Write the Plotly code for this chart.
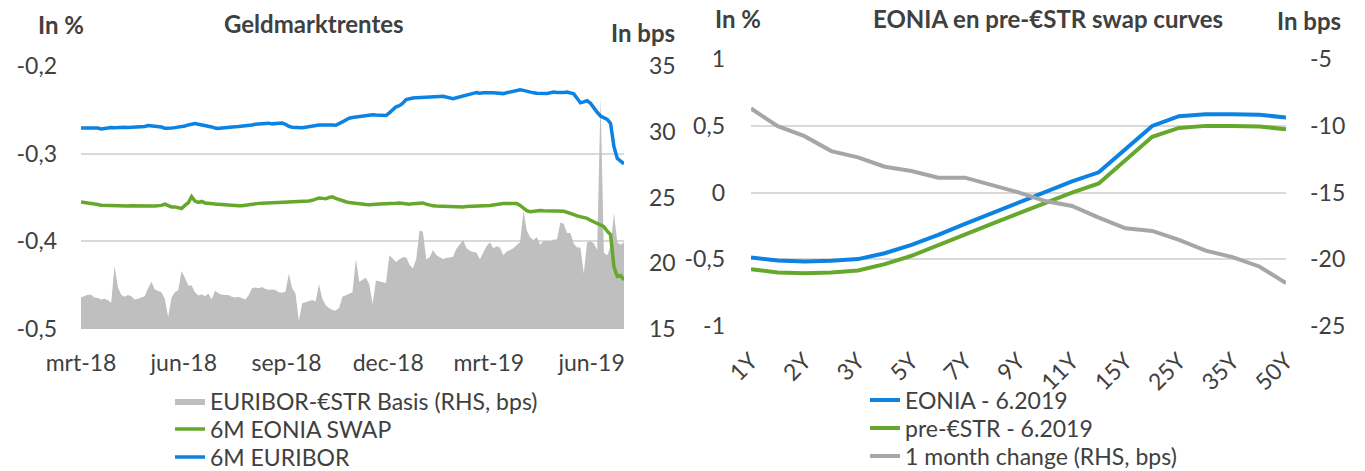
import plotly.graph_objects as go
import pandas as pd

# ---------------- Left chart data (3-day grid, Mar 2018 - Jun 2019) ----------------
dates = pd.date_range("2018-03-01", periods=163, freq="3D")

basis_bps = [
    17.4, 17.5, 17.6, 17.6, 17.4, 17.35, 17.25, 17.3, 17.2, 17.0,
    19.8, 18.2, 17.6, 17.45, 17.58, 17.5, 17.25, 17.3, 17.4, 17.5,
    18.1, 18.6, 18.0, 17.9, 17.8, 17.3, 15.9, 17.4, 17.8, 17.95,
    19.4, 18.9, 18.3, 18.3, 17.8, 17.55, 17.65, 17.5, 17.7, 17.25,
    17.9, 17.72, 17.6, 17.58, 17.58, 17.45, 17.4, 17.45, 17.35, 17.25,
    17.55, 18.1, 18.15, 18.1, 18.2, 18.05, 17.98, 18.0, 17.96, 17.8,
    17.75, 17.83, 19.2, 18.1, 17.7, 15.6, 16.95, 17.05, 17.1, 17.2,
    17.1, 18.4, 17.3, 16.8, 16.6, 16.45, 16.4, 16.6, 17.45, 17.55,
    17.65, 17.8, 20.3, 18.6, 18.75, 18.9, 18.4, 16.9, 18.68, 18.6,
    18.55, 18.5, 20.6, 20.35, 20.1, 20.3, 20.45, 20.45, 19.9, 19.6,
    20.3, 22.5, 22.4, 20.3, 20.45, 21.0, 20.62, 20.45, 20.32, 20.4,
    20.45, 20.5, 21.1, 21.45, 21.76, 21.15, 20.95, 20.85, 20.8, 20.3,
    20.8, 21.3, 21.6, 21.15, 21.3, 21.2, 20.6, 20.9, 21.0, 21.15,
    21.38, 21.6, 24.0, 22.5, 21.95, 21.76, 22.0, 21.4, 21.7, 21.7,
    21.7, 21.8, 21.8, 23.1, 23.0, 22.3, 22.3, 21.5, 21.2, 21.2,
    19.2, 21.6, 21.7, 21.5, 21.0, 32.6, 20.8, 20.6, 21.3, 23.8,
    21.6, 21.4, 21.6,
]

eonia_swap_6m = [
    -0.3550, -0.3555, -0.3560, -0.3562, -0.3570, -0.3580, -0.3588, -0.3590, -0.3592, -0.3590,
    -0.3593, -0.3595, -0.3592, -0.3595, -0.3597, -0.3595, -0.3597, -0.3598, -0.3597, -0.3596,
    -0.3597, -0.3598, -0.3597, -0.3597, -0.3590, -0.3575, -0.3595, -0.3607, -0.3607, -0.3615,
    -0.3626, -0.3590, -0.3560, -0.3490, -0.3540, -0.3555, -0.3545, -0.3562, -0.3569, -0.3570,
    -0.3575, -0.3577, -0.3578, -0.3580, -0.3583, -0.3587, -0.3590, -0.3593, -0.3595, -0.3588,
    -0.3580, -0.3575, -0.3569, -0.3567, -0.3565, -0.3563, -0.3561, -0.3562, -0.3560, -0.3559,
    -0.3557, -0.3557, -0.3555, -0.3555, -0.3553, -0.3552, -0.3550, -0.3548, -0.3540, -0.3532,
    -0.3518, -0.3505, -0.3510, -0.3515, -0.3500, -0.3493, -0.3510, -0.3525, -0.3538, -0.3548,
    -0.3558, -0.3564, -0.3568, -0.3574, -0.3577, -0.3580, -0.3583, -0.3584, -0.3578, -0.3575,
    -0.3575, -0.3576, -0.3576, -0.3572, -0.3566, -0.3562, -0.3568, -0.3573, -0.3576, -0.3570,
    -0.3565, -0.3562, -0.3562, -0.3575, -0.3588, -0.3595, -0.3598, -0.3600, -0.3603, -0.3605,
    -0.3607, -0.3607, -0.3607, -0.3607, -0.3607, -0.3604, -0.3602, -0.3600, -0.3599, -0.3596,
    -0.3597, -0.3600, -0.3590, -0.3585, -0.3578, -0.3570, -0.3569, -0.3569, -0.3569, -0.3569,
    -0.3569, -0.3590, -0.3625, -0.3650, -0.3662, -0.3655, -0.3645, -0.3648, -0.3652, -0.3655,
    -0.3655, -0.3654, -0.3653, -0.3652, -0.3658, -0.3668, -0.3678, -0.3695, -0.3710, -0.3720,
    -0.3728, -0.3738, -0.3760, -0.3780, -0.3800, -0.3815, -0.3832, -0.3885, -0.3925, -0.4290,
    -0.4400, -0.4390, -0.4440,
]

euribor_6m = [
    -0.2707, -0.2705, -0.2708, -0.2706, -0.2708, -0.2707, -0.2718, -0.2710, -0.2703, -0.2702,
    -0.2703, -0.2700, -0.2702, -0.2700, -0.2702, -0.2700, -0.2701, -0.2702, -0.2700, -0.2690,
    -0.2680, -0.2682, -0.2688, -0.2693, -0.2696, -0.2710, -0.2714, -0.2708, -0.2703, -0.2698,
    -0.2695, -0.2685, -0.2672, -0.2660, -0.2657, -0.2665, -0.2672, -0.2680, -0.2684, -0.2695,
    -0.2708, -0.2714, -0.2708, -0.2702, -0.2698, -0.2695, -0.2692, -0.2690, -0.2687, -0.2684,
    -0.2678, -0.2672, -0.2665, -0.2660, -0.2657, -0.2655, -0.2652, -0.2660, -0.2655, -0.2652,
    -0.2650, -0.2665, -0.2688, -0.2698, -0.2703, -0.2707, -0.2705, -0.2698, -0.2690, -0.2680,
    -0.2676, -0.2674, -0.2672, -0.2670, -0.2669, -0.2673, -0.2676, -0.2660, -0.2638, -0.2615,
    -0.2595, -0.2588, -0.2582, -0.2576, -0.2570, -0.2565, -0.2558, -0.2557, -0.2560, -0.2562,
    -0.2565, -0.2565, -0.2535, -0.2500, -0.2465, -0.2452, -0.2425, -0.2384, -0.2372, -0.2365,
    -0.2363, -0.2362, -0.2361, -0.2361, -0.2358, -0.2355, -0.2352, -0.2348, -0.2346, -0.2355,
    -0.2366, -0.2372, -0.2362, -0.2350, -0.2340, -0.2334, -0.2322, -0.2312, -0.2304, -0.2310,
    -0.2305, -0.2300, -0.2304, -0.2306, -0.2310, -0.2312, -0.2315, -0.2305, -0.2295, -0.2287,
    -0.2280, -0.2272, -0.2278, -0.2290, -0.2302, -0.2306, -0.2310, -0.2313, -0.2314, -0.2315,
    -0.2305, -0.2297, -0.2302, -0.2307, -0.2302, -0.2296, -0.2305, -0.2318, -0.2368, -0.2420,
    -0.2410, -0.2395, -0.2425, -0.2480, -0.2528, -0.2570, -0.2586, -0.2610, -0.2655, -0.2920,
    -0.3055, -0.3085, -0.3115,
]

date_tick_vals = ["2018-03-01", "2018-06-01", "2018-09-01", "2018-12-01", "2019-03-01", "2019-06-01"]
date_tick_text = ["mrt-18", "jun-18", "sep-18", "dec-18", "mrt-19", "jun-19"]
pct_left_vals = [-0.5, -0.4, -0.3, -0.2]
pct_left_text = ["-0,5", "-0,4", "-0,3", "-0,2"]
bps_left_vals = [15, 20, 25, 30, 35]
bps_left_text = ["15", "20", "25", "30", "35"]

# ---------------- Right chart data ----------------
tenors = ["1Y", "18M", "2Y", "30M", "3Y", "4Y", "5Y", "6Y", "7Y", "8Y", "9Y", "10Y",
          "11Y", "12Y", "15Y", "20Y", "25Y", "30Y", "35Y", "40Y", "50Y"]
tenor_labels = ["1Y", "2Y", "3Y", "5Y", "7Y", "9Y", "11Y", "15Y", "25Y", "35Y", "50Y"]
eonia_curve = [-0.487, -0.509, -0.517, -0.512, -0.499, -0.455, -0.392, -0.318, -0.235, -0.156,
               -0.073, 0.006, 0.083, 0.151, 0.330, 0.499, 0.572, 0.587, 0.587, 0.582, 0.562]
pre_estr_curve = [-0.574, -0.599, -0.604, -0.599, -0.584, -0.537, -0.474, -0.397, -0.318, -0.235,
                  -0.156, -0.076, -0.001, 0.068, 0.243, 0.417, 0.484, 0.499, 0.499, 0.494, 0.474]
change_1m_bps = [-8.71, -10.03, -10.78, -11.90, -12.37, -13.07, -13.39, -13.89, -13.89, -14.44,
                 -14.99, -15.64, -16.01, -16.88, -17.68, -17.88, -18.55, -19.35, -19.84, -20.54, -21.79]
pct_right_vals = [-1, -0.5, 0, 0.5, 1]
pct_right_text = ["-1", "-0,5", "0", "0,5", "1"]
bps_right_vals = [-25, -20, -15, -10, -5]
bps_right_text = ["-25", "-20", "-15", "-10", "-5"]

# ---------------- Styling ----------------
W, H = 1365, 471
FONT = "Lato"
TXT = "#404040"
GRID = "#d9d9d9"
BLUE = "#0c83e2"
GREEN = "#65a82b"
GRAYA = "#bfbfbf"
GRAYL = "#a6a6a6"
FS = 23
LFS = 23


def px(x):
    return x / W


def py(y):
    return 1 - y / H


fig = go.Figure()

# Left chart
fig.add_trace(go.Scatter(x=dates, y=basis_bps, mode="lines", fill="tozeroy",
                         line=dict(width=0, color=GRAYA), fillcolor=GRAYA,
                         name="EURIBOR-€STR Basis (RHS, bps)", xaxis="x", yaxis="y",
                         legend="legend"))
fig.add_trace(go.Scatter(x=dates, y=eonia_swap_6m, mode="lines",
                         line=dict(width=3.5, color=GREEN),
                         name="6M EONIA SWAP", xaxis="x", yaxis="y2", legend="legend2"))
fig.add_trace(go.Scatter(x=dates, y=euribor_6m, mode="lines",
                         line=dict(width=3.5, color=BLUE),
                         name="6M EURIBOR", xaxis="x", yaxis="y2", legend="legend3"))

# Right chart
fig.add_trace(go.Scatter(x=tenors, y=eonia_curve, mode="lines",
                         line=dict(width=4, color=BLUE),
                         name="EONIA - 6.2019", xaxis="x2", yaxis="y3", legend="legend4"))
fig.add_trace(go.Scatter(x=tenors, y=pre_estr_curve, mode="lines",
                         line=dict(width=4, color=GREEN),
                         name="pre-€STR - 6.2019", xaxis="x2", yaxis="y3", legend="legend5"))
fig.add_trace(go.Scatter(x=tenors, y=change_1m_bps, mode="lines",
                         line=dict(width=4, color=GRAYL),
                         name="1 month change (RHS, bps)", xaxis="x2", yaxis="y4", legend="legend6"))

tickfont = dict(family=FONT, size=FS, color=TXT)


def legend_at(x_px, y_px):
    return dict(x=px(x_px), y=py(y_px), xanchor="left", yanchor="middle",
                orientation="v", bgcolor="rgba(0,0,0,0)", borderwidth=0,
                font=dict(family=FONT, size=LFS, color=TXT))


fig.update_layout(
    width=W, height=H, autosize=False,
    margin=dict(l=0, r=0, t=0, b=0, autoexpand=False),
    paper_bgcolor="white", plot_bgcolor="white",
    font=dict(family=FONT, size=FS, color=TXT),
    xaxis=dict(domain=[px(81), px(624)], anchor="y", type="date",
               range=["2018-03-01", "2019-06-30"],
               tickmode="array", tickvals=date_tick_vals, ticktext=date_tick_text,
               showgrid=False, zeroline=False, showline=False, ticks="",
               ticklabelstandoff=18, tickfont=tickfont, automargin=False),
    yaxis=dict(domain=[py(329), py(66)], anchor="x", side="right",
               range=[15, 35], tickmode="array", tickvals=bps_left_vals, ticktext=bps_left_text,
               showgrid=False, zeroline=False, showline=False, ticks="",
               ticklabelstandoff=24, tickfont=tickfont, automargin=False),
    yaxis2=dict(overlaying="y", anchor="x", side="left",
                range=[-0.5, -0.2], tickmode="array", tickvals=pct_left_vals, ticktext=pct_left_text,
                showgrid=True, gridcolor=GRID, gridwidth=1.5, zeroline=False, showline=False,
                ticks="", ticklabelstandoff=23, tickfont=tickfont, automargin=False),
    xaxis2=dict(domain=[px(751), px(1286)], anchor="y3", type="category",
                categoryorder="array", categoryarray=tenors,
                tickmode="array", tickvals=tenor_labels, ticktext=tenor_labels,
                tickangle=-45, showgrid=False, zeroline=False, showline=False, ticks="",
                ticklabelstandoff=16, tickfont=tickfont, automargin=False),
    yaxis3=dict(domain=[py(326), py(59)], anchor="x2", side="left",
                range=[-1, 1], tickmode="array", tickvals=pct_right_vals, ticktext=pct_right_text,
                showgrid=True, gridcolor=GRID, gridwidth=1.5, zeroline=False, showline=False,
                ticks="", ticklabelstandoff=25, tickfont=tickfont, automargin=False),
    yaxis4=dict(overlaying="y3", anchor="x2", side="right",
                range=[-25, -5], tickmode="array", tickvals=bps_right_vals, ticktext=bps_right_text,
                showgrid=False, zeroline=False, showline=False,
                ticks="", ticklabelstandoff=23, tickfont=tickfont, automargin=False),
    legend=legend_at(170, 401),
    legend2=legend_at(170, 429),
    legend3=legend_at(170, 457),
    legend4=legend_at(865, 400),
    legend5=legend_at(865, 428),
    legend6=legend_at(865, 456),
    showlegend=True,
)

annots = [
    ("In %", 61, 25),
    ("Geldmarktrentes", 314, 24),
    ("In bps", 643, 33),
    ("In %", 738, 19),
    ("EONIA en pre-€STR swap curves", 1048, 19),
    ("In bps", 1309, 21),
]
for text, x, y in annots:
    fig.add_annotation(text=f"<b>{text}</b>", x=px(x), y=py(y), xref="paper", yref="paper",
                       xanchor="center", yanchor="middle", showarrow=False,
                       font=dict(family=FONT, size=24, color=TXT))

fig.write_html("out.html", config={"displayModeBar": False},
               post_script="document.body.style.margin='0';")
